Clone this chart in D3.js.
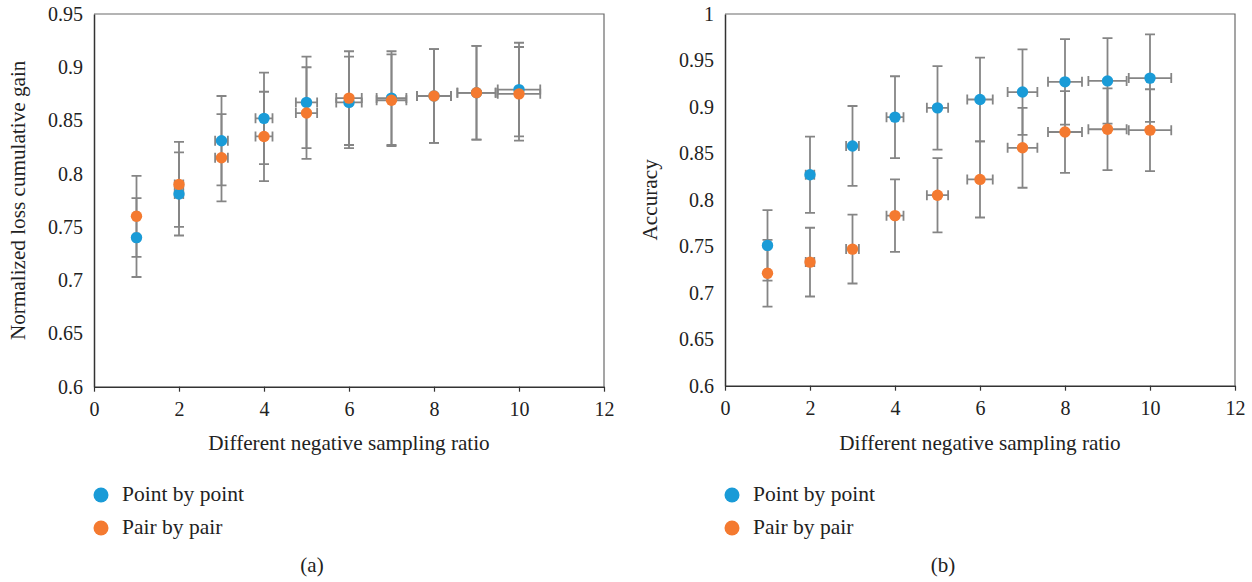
<!DOCTYPE html>
<html>
<head>
<meta charset="utf-8">
<script src="https://cdn.jsdelivr.net/npm/d3@7"></script>
<style>
  body { margin: 0; background: #fff; }
  text { font-family: "Liberation Serif", "DejaVu Serif", serif; fill: #222; }
</style>
</head>
<body>
<div id="chart"></div>
<script>
// negative sampling ratio
const ratios = [1, 2, 3, 4, 5, 6, 7, 8, 9, 10];
const xErr = [0.05, 0.1, 0.15, 0.2, 0.25, 0.3, 0.35, 0.4, 0.45, 0.5];

// (a) normalized loss cumulative gain
const ndcgPoint = [0.740, 0.781, 0.831, 0.852, 0.867, 0.867, 0.871, 0.873, 0.876, 0.879];
const ndcgPair  = [0.760, 0.790, 0.815, 0.835, 0.857, 0.871, 0.869, 0.873, 0.876, 0.875];
const ndcgPointErr = [0.037, 0.039, 0.042, 0.043, 0.043, 0.043, 0.044, 0.044, 0.044, 0.044];
const ndcgPairErr  = [0.038, 0.040, 0.041, 0.042, 0.043, 0.044, 0.043, 0.044, 0.044, 0.044];

// (b) accuracy
const accPoint = [0.751, 0.827, 0.858, 0.889, 0.899, 0.908, 0.916, 0.927, 0.928, 0.931];
const accPair  = [0.721, 0.733, 0.747, 0.783, 0.805, 0.822, 0.856, 0.873, 0.876, 0.875];
const accPointErr = [0.038, 0.041, 0.043, 0.044, 0.045, 0.045, 0.046, 0.046, 0.046, 0.047];
const accPairErr  = [0.036, 0.037, 0.037, 0.039, 0.040, 0.041, 0.043, 0.044, 0.044, 0.044];

const seriesNames = ["Point by point", "Pair by pair"];
const colors = ["#1a9bd7", "#f47a30"];
const xTicks = [0, 2, 4, 6, 8, 10, 12];
const yTicksA = [0.6, 0.65, 0.7, 0.75, 0.8, 0.85, 0.9, 0.95];
const yTicksB = [0.6, 0.65, 0.7, 0.75, 0.8, 0.85, 0.9, 0.95, 1];

const svg = d3.select("#chart")
    .append("svg")
    .attr("width", 1252)
    .attr("height", 582);

function drawPanel(p) {
  const x = d3.scaleLinear().domain([0, 12]).range([p.left, p.right]);
  const y = d3.scaleLinear().domain(p.yDomain).range([p.bottom, p.top]);
  const g = svg.append("g");

  // frame (top / right lighter)
  g.append("path")
    .attr("d", `M${p.left},${p.top}H${p.right}V${p.bottom}`)
    .attr("fill", "none").attr("stroke", "#6a6a6a").attr("stroke-width", 1.2);

  // x axis
  const xa = g.append("g")
    .attr("transform", `translate(0,${p.bottom})`)
    .call(d3.axisBottom(x).tickValues(xTicks).tickSize(5).tickSizeOuter(0).tickPadding(10).tickFormat(d3.format("d")));
  xa.select(".domain").attr("stroke", "#333").attr("stroke-width", 1.5);
  xa.selectAll(".tick line").attr("stroke", "#333").attr("stroke-width", 1.2);
  xa.selectAll(".tick text").style("font-size", "20px").attr("fill", "#222")
    .style("font-family", "Liberation Serif");

  // y axis
  const ya = g.append("g")
    .attr("transform", `translate(${p.left},0)`)
    .call(d3.axisLeft(y).tickValues(p.yTicks).tickSize(0).tickPadding(11).tickFormat(d => String(+d.toFixed(2))));
  ya.select(".domain").attr("stroke", "#333").attr("stroke-width", 1.5);
  ya.selectAll(".tick text").style("font-size", "20px").attr("fill", "#222")
    .style("font-family", "Liberation Serif");

  // axis titles
  g.append("text")
    .attr("x", (p.left + p.right) / 2).attr("y", 450)
    .attr("text-anchor", "middle").style("font-size", "21.2px")
    .text("Different negative sampling ratio");
  g.append("text")
    .attr("transform", `translate(${p.yTitleX},${(p.top + p.bottom) / 2}) rotate(-90)`)
    .attr("text-anchor", "middle").style("font-size", "21.2px")
    .text(p.yTitle);

  const series = p.values.map((vals, i) => ratios.map((r, j) => ({
    x: r, y: vals[j], ey: p.errs[i][j], ex: xErr[j], s: i
  })));

  // error bars
  const cap = 5;
  series.forEach(pts => {
    const eb = g.append("g").attr("stroke", "#858585").attr("stroke-width", 1.8).attr("fill", "none");
    eb.selectAll("path.v")
      .data(pts).join("path").attr("class", "v")
      .attr("d", d => {
        const cx = x(d.x), y0 = y(d.y - d.ey), y1 = y(d.y + d.ey);
        return `M${cx},${y0}V${y1}M${cx - cap},${y0}H${cx + cap}M${cx - cap},${y1}H${cx + cap}`;
      });
    eb.selectAll("path.h")
      .data(pts).join("path").attr("class", "h")
      .attr("d", d => {
        const cy = y(d.y), x0 = x(d.x - d.ex), x1 = x(d.x + d.ex);
        return `M${x0},${cy}H${x1}M${x0},${cy - cap}V${cy + cap}M${x1},${cy - cap}V${cy + cap}`;
      });
  });

  // markers
  series.forEach((pts, i) => {
    g.selectAll(null)
      .data(pts).join("circle")
      .attr("cx", d => x(d.x)).attr("cy", d => y(d.y))
      .attr("r", 5.7).attr("fill", colors[i]);
  });

  // legend
  seriesNames.forEach((name, i) => {
    const ly = 495 + i * 33;
    g.append("circle").attr("cx", p.left + 7).attr("cy", ly).attr("r", 7.5).attr("fill", colors[i]);
    g.append("text").attr("x", p.left + 28).attr("y", ly + 6)
      .style("font-size", "21.5px").text(name);
  });

  // caption
  g.append("text")
    .attr("x", p.captionX).attr("y", 572)
    .attr("text-anchor", "middle").style("font-size", "21px")
    .text(p.caption);
}

drawPanel({
  left: 94, right: 604, top: 14, bottom: 386.7,
  yDomain: [0.6, 0.95], yTicks: yTicksA,
  yTitle: "Normalized loss cumulative gain", yTitleX: 25,
  values: [ndcgPoint, ndcgPair], errs: [ndcgPointErr, ndcgPairErr],
  caption: "(a)", captionX: 312
});

drawPanel({
  left: 725, right: 1235, top: 14, bottom: 385.7,
  yDomain: [0.6, 1], yTicks: yTicksB,
  yTitle: "Accuracy", yTitleX: 657,
  values: [accPoint, accPair], errs: [accPointErr, accPairErr],
  caption: "(b)", captionX: 943
});
</script>
</body>
</html>
